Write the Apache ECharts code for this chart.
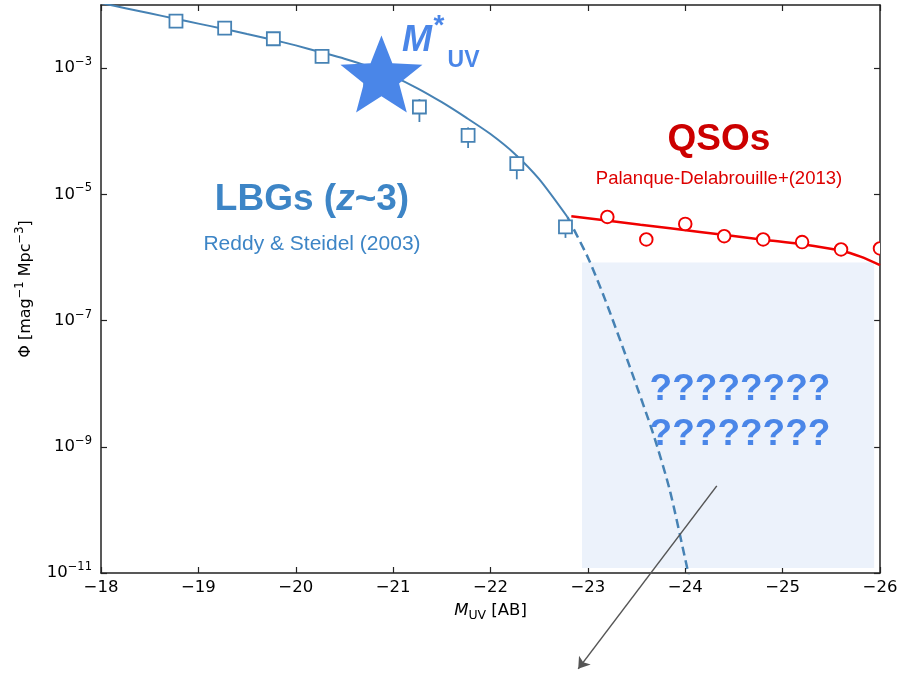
<!DOCTYPE html>
<html><head><meta charset="utf-8">
<script src="https://cdn.jsdelivr.net/npm/echarts@6/dist/echarts.min.js"></script>
<style>html,body{margin:0;padding:0;background:#fff}#c{width:902px;height:673px}</style>
</head><body><div id="c"></div>
<script>
// ---- data ----
const xTickValues = [-18, -19, -20, -21, -22, -23, -24, -25, -26];
const yTickValues = [1e-11, 1e-9, 1e-7, 1e-5, 1e-3];

// LBG (Reddy & Steidel) binned points
const lbgM   = [-18.77, -19.27, -19.77, -20.27, -20.77, -21.27, -21.77, -22.27, -22.77];
const lbgPhi = [5.55e-3, 4.3e-3, 2.92e-3, 1.53e-3, 6.3e-4, 2.42e-4, 8.6e-5, 3.07e-5, 3.05e-6];
// error bars (only visible ones)
const lbgErrM  = [-21.27, -21.77, -22.27, -22.77];
const lbgErrLo = [1.40e-4, 5.42e-5, 1.73e-5, 2.04e-6];
const lbgErrHi = [3.23e-4, 1.15e-4, 4.16e-5, 3.9e-6];

// LBG Schechter curve (solid part)
const lbgFitM   = [-18.0, -18.25, -18.5, -18.75, -19.0, -19.25, -19.5, -19.75, -20.0, -20.25, -20.5, -20.75, -21.0, -21.25, -21.5, -21.75, -22.0, -22.25, -22.5, -22.79];
const lbgFitPhi = [1.07e-2, 8.91e-3, 7.41e-3, 6.10e-3, 5.07e-3, 4.22e-3, 3.47e-3, 2.85e-3, 2.29e-3, 1.80e-3, 1.41e-3, 1.06e-3, 7.41e-4, 4.79e-4, 2.88e-4, 1.64e-4, 9.02e-5, 4.37e-5, 1.74e-5, 4.37e-6];
// extrapolated (dashed) part
const lbgExtM   = [-22.79, -23.0, -23.18, -23.43, -23.67, -23.84, -24.02, -24.04];
const lbgExtPhi = [4.37e-6, 1.0e-6, 2.09e-7, 1.86e-8, 1.62e-9, 2.09e-10, 1.20e-11, 8.9e-12];

// QSO (Palanque-Delabrouille+2013) points and fit
const qsoM   = [-23.2, -23.6, -24.0, -24.4, -24.8, -25.2, -25.6, -26.0];
const qsoPhi = [4.38e-6, 1.93e-6, 3.4e-6, 2.17e-6, 1.93e-6, 1.75e-6, 1.34e-6, 1.39e-6];
const qsoFitM   = [-22.83, -23.54, -24.15, -24.80, -25.20, -25.60, -25.80, -26.0];
const qsoFitPhi = [4.50e-6, 3.29e-6, 2.54e-6, 1.91e-6, 1.62e-6, 1.28e-6, 1.03e-6, 7.55e-7];

// M* marker
const mStar = [-20.88, 7.0e-4];
// unknown region box [M, Phi] corners
const boxFrom = [-22.94, 8.3e-7];
const boxTo   = [-25.94, 1.2e-11];
// arrow
const arrowFrom = [-24.324, 2.40e-10];
const arrowTo   = [-22.901, 3.03e-13];

const zip = (a, b) => a.map((v, i) => [v, b[i]]);

const AX = 'DejaVu Sans';
const AN = 'Liberation Sans, Arial, sans-serif';
const minus = v => (v < 0 ? '\u2212' : '') + Math.abs(v);

const starPath = 'path://M0,-1 L0.253,-0.348 L0.951,-0.309 L0.409,0.133 L0.588,0.809 L0,0.43 L-0.588,0.809 L-0.409,0.133 L-0.951,-0.309 L-0.253,-0.348 Z';

const axisLineStyle = { color: '#222', width: 1.5 };
const tickStyle = { color: '#222', width: 1.2 };

const chart = echarts.init(document.getElementById('c'), null, { renderer: 'canvas' });
chart.setOption({
  animation: false,
  backgroundColor: '#fff',
  grid: { left: 101, right: 22, top: 5, bottom: 100, containLabel: false },
  xAxis: [{
    type: 'value', min: -26, max: -18, interval: 1, inverse: true,
    position: 'bottom',
    axisLine: { show: true, onZero: false, lineStyle: axisLineStyle },
    axisTick: { show: true, inside: true, length: 6, lineStyle: tickStyle, customValues: xTickValues },
    axisLabel: { show: true, customValues: xTickValues, formatter: minus, color: '#000', fontFamily: AX, fontSize: 16.5, margin: 6 },
    splitLine: { show: false },
    name: '{i|M}{s|UV}{n| [AB]}',
    nameLocation: 'middle', nameGap: 27,
    nameTextStyle: {
      rich: {
        i: { fontFamily: AX, fontStyle: 'italic', fontSize: 16.5, color: '#000', lineHeight: 22, verticalAlign: 'middle' },
        s: { fontFamily: AX, fontSize: 12.5, color: '#000', lineHeight: 22, verticalAlign: 'bottom' },
        n: { fontFamily: AX, fontSize: 16.5, color: '#000', lineHeight: 22, verticalAlign: 'middle' }
      }
    }
  }, {
    type: 'value', min: -26, max: -18, interval: 1, inverse: true,
    position: 'top',
    axisLine: { show: true, onZero: false, lineStyle: axisLineStyle },
    axisTick: { show: true, inside: true, length: 6, lineStyle: tickStyle, customValues: xTickValues },
    axisLabel: { show: false },
    splitLine: { show: false }
  }],
  yAxis: [{
    type: 'log', logBase: 10, min: 1e-11, max: 1e-2,
    position: 'left',
    axisLine: { show: true, onZero: false, lineStyle: axisLineStyle },
    axisTick: { show: true, inside: true, length: 6, lineStyle: tickStyle, customValues: yTickValues },
    axisLabel: {
      show: true, customValues: yTickValues, margin: 9,
      formatter: v => '{b|10}{s|\u2212' + Math.abs(Math.round(Math.log10(v))) + '}',
      rich: {
        b: { fontFamily: AX, fontSize: 16.5, color: '#000', lineHeight: 24, verticalAlign: 'middle' },
        s: { fontFamily: AX, fontSize: 11.5, color: '#000', lineHeight: 24, verticalAlign: 'top' }
      }
    },
    minorTick: { show: false },
    splitLine: { show: false },
    name: '{n|\u03A6 [mag}{s|\u22121}{n| Mpc}{s|\u22123}{n|]}',
    nameLocation: 'middle', nameGap: 63, nameRotate: 90,
    nameTextStyle: {
      rich: {
        n: { fontFamily: AX, fontSize: 16, color: '#000', lineHeight: 24, verticalAlign: 'middle' },
        s: { fontFamily: AX, fontSize: 11.5, color: '#000', lineHeight: 24, verticalAlign: 'top' }
      }
    }
  }, {
    type: 'log', logBase: 10, min: 1e-11, max: 1e-2,
    position: 'right',
    axisLine: { show: true, onZero: false, lineStyle: axisLineStyle },
    axisTick: { show: true, inside: true, length: 6, lineStyle: tickStyle, customValues: yTickValues },
    axisLabel: { show: false },
    minorTick: { show: false },
    splitLine: { show: false }
  }],
  series: [
    {
      name: 'unknown region', type: 'scatter', data: [], z: 1, silent: true,
      markArea: {
        silent: true,
        itemStyle: { color: '#ecf2fb' },
        data: [[{ xAxis: boxFrom[0], yAxis: boxFrom[1] }, { xAxis: boxTo[0], yAxis: boxTo[1] }]]
      }
    },
    {
      name: 'LBG fit', type: 'line', data: zip(lbgFitM, lbgFitPhi), smooth: 0.25,
      showSymbol: false, symbol: 'none', z: 3,
      lineStyle: { color: '#4682b4', width: 2 }
    },
    {
      name: 'LBG extrapolation', type: 'line', data: zip(lbgExtM, lbgExtPhi), smooth: 0.25,
      showSymbol: false, symbol: 'none', z: 3,
      lineStyle: { color: '#4682b4', width: 2.5, type: [9, 5] }
    },
    {
      name: 'QSO fit', type: 'line', data: zip(qsoFitM, qsoFitPhi), smooth: 0.3,
      showSymbol: false, symbol: 'none', z: 3,
      lineStyle: { color: '#f00000', width: 2.5 }
    },
    {
      name: 'LBG errors', type: 'custom', z: 4, silent: true,
      data: lbgErrM.map((m, i) => [m, lbgErrLo[i], lbgErrHi[i]]),
      encode: { x: 0, y: [1, 2] },
      renderItem: (params, api) => {
        const p1 = api.coord([api.value(0), api.value(1)]);
        const p2 = api.coord([api.value(0), api.value(2)]);
        return { type: 'line', shape: { x1: p1[0], y1: p1[1], x2: p2[0], y2: p2[1] },
                 style: { stroke: '#4682b4', lineWidth: 1.8 } };
      }
    },
    {
      name: 'LBGs', type: 'scatter', data: zip(lbgM, lbgPhi), z: 5,
      symbol: 'rect', symbolSize: 13,
      itemStyle: { color: '#fff', borderColor: '#4682b4', borderWidth: 1.8, opacity: 1 }
    },
    {
      name: 'QSOs', type: 'custom', data: zip(qsoM, qsoPhi), z: 5, clip: true,
      encode: { x: 0, y: 1 },
      renderItem: (params, api) => {
        const p = api.coord([api.value(0), api.value(1)]);
        return { type: 'circle', shape: { cx: p[0], cy: p[1], r: 6.3 },
                 style: { fill: '#fff', stroke: '#f00000', lineWidth: 1.9 } };
      }
    },
    {
      name: 'M*', type: 'scatter', data: [mStar], z: 6,
      symbol: starPath, symbolSize: [82, 77], symbolOffset: [0, -4],
      itemStyle: { color: '#4a86e8', opacity: 1 }
    },
    {
      name: 'arrow', type: 'lines', coordinateSystem: 'cartesian2d', z: 7, clip: false, silent: true,
      symbol: ['none', 'arrow'], symbolSize: 11,
      lineStyle: { color: '#555', width: 1.5, opacity: 1, curveness: 0 },
      data: [{ coords: [arrowFrom, arrowTo] }]
    }
  ],
  graphic: [
    { type: 'text', z: 100, x: 417, y: 41, style: { text: 'M', font: 'italic bold 36px ' + AN, fill: '#4a86e8', align: 'center', verticalAlign: 'middle' } },
    { type: 'text', z: 100, x: 439, y: 26, style: { text: '*', font: 'bold 28px ' + AN, fill: '#4a86e8', align: 'center', verticalAlign: 'middle' } },
    { type: 'text', z: 100, x: 463.5, y: 60.5, style: { text: 'UV', font: 'bold 23px ' + AN, fill: '#4a86e8', align: 'center', verticalAlign: 'middle' } },
    { type: 'text', z: 100, x: 312, y: 200, style: { text: '{n|LBGs (}{i|z}{n|~3)}', rich: {
        n: { font: 'bold 37px ' + AN, fill: '#3d85c6' }, i: { font: 'italic bold 37px ' + AN, fill: '#3d85c6' } },
        align: 'center', verticalAlign: 'middle' } },
    { type: 'text', z: 100, x: 312, y: 244, style: { text: 'Reddy & Steidel (2003)', font: '21px ' + AN, fill: '#3d85c6', align: 'center', verticalAlign: 'middle' } },
    { type: 'text', z: 100, x: 719, y: 140, style: { text: 'QSOs', font: 'bold 37px ' + AN, fill: '#cc0000', align: 'center', verticalAlign: 'middle' } },
    { type: 'text', z: 100, x: 719, y: 179, style: { text: 'Palanque-Delabrouille+(2013)', font: '18.5px ' + AN, fill: '#dd0000', align: 'center', verticalAlign: 'middle' } },
    { type: 'text', z: 100, x: 740, y: 390, style: { text: '????????', font: 'bold 37px ' + AN, fill: '#4a86e8', align: 'center', verticalAlign: 'middle' } },
    { type: 'text', z: 100, x: 740, y: 435, style: { text: '????????', font: 'bold 37px ' + AN, fill: '#4a86e8', align: 'center', verticalAlign: 'middle' } }
  ]
});
</script>
</body></html>
